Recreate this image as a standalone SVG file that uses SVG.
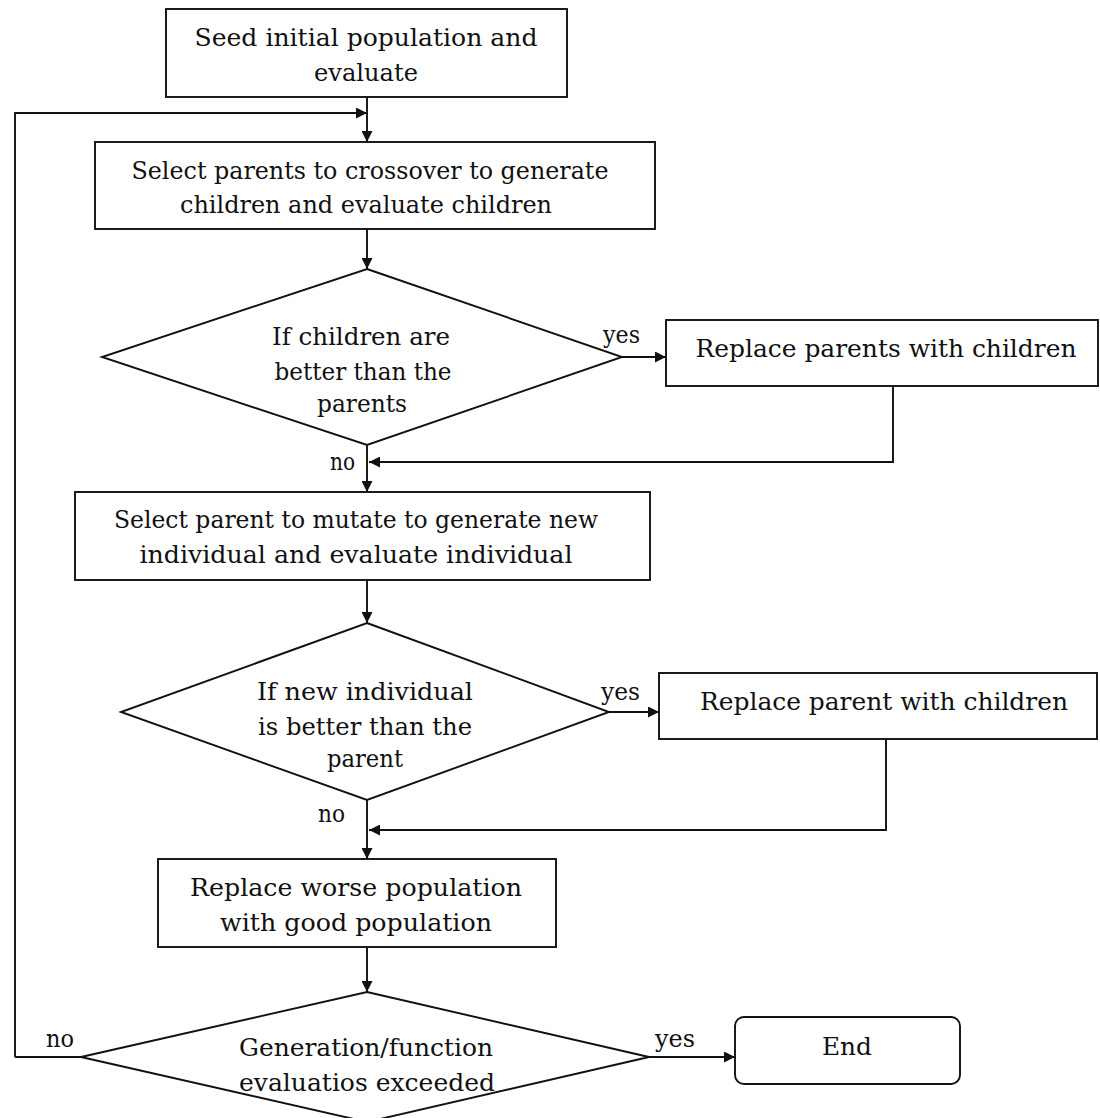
<svg xmlns="http://www.w3.org/2000/svg" width="1100" height="1118" viewBox="0 0 1100 1118">
  <style>
    .box { fill: #ffffff; stroke: #111; stroke-width: 1.9; }
    .wire { fill: none; stroke: #111; stroke-width: 1.9; }
    text { font-family: "DejaVu Serif", "Liberation Serif", serif; font-size: 25px; fill: #111; }
    .c { text-anchor: middle; }
  </style>
  <defs>
    <marker id="arrow" viewBox="0 0 10 10" refX="10" refY="5" markerWidth="13" markerHeight="11" markerUnits="userSpaceOnUse" orient="auto">
      <path d="M0,0 L10,5 L0,10 Z" fill="#111"/>
    </marker>
  </defs>
  <rect width="1100" height="1118" fill="#ffffff"/>

  <g id="connectors">
    <line class="wire" x1="367" y1="97" x2="367" y2="142" marker-end="url(#arrow)"/>
    <polyline class="wire" points="15,1057 15,113 367,113" marker-end="url(#arrow)"/>
    <line class="wire" x1="367" y1="229" x2="367" y2="269" marker-end="url(#arrow)"/>
    <line class="wire" x1="622" y1="357" x2="666" y2="357" marker-end="url(#arrow)"/>
    <polyline class="wire" points="893,386 893,462 369,462" marker-end="url(#arrow)"/>
    <line class="wire" x1="367" y1="445" x2="367" y2="492" marker-end="url(#arrow)"/>
    <line class="wire" x1="367" y1="580" x2="367" y2="623" marker-end="url(#arrow)"/>
    <line class="wire" x1="609" y1="712" x2="659" y2="712" marker-end="url(#arrow)"/>
    <polyline class="wire" points="886,739 886,830 369,830" marker-end="url(#arrow)"/>
    <line class="wire" x1="367" y1="800" x2="367" y2="859" marker-end="url(#arrow)"/>
    <line class="wire" x1="367" y1="947" x2="367" y2="992" marker-end="url(#arrow)"/>
    <line class="wire" x1="649" y1="1057" x2="735" y2="1057" marker-end="url(#arrow)"/>
    <line class="wire" x1="81" y1="1057" x2="15" y2="1057"/>
    <text x="603" y="343" textLength="37" lengthAdjust="spacingAndGlyphs">yes</text>
    <text x="330" y="470" textLength="25" lengthAdjust="spacingAndGlyphs">no</text>
    <text x="601" y="700" textLength="39" lengthAdjust="spacingAndGlyphs">yes</text>
    <text x="318" y="822" textLength="27" lengthAdjust="spacingAndGlyphs">no</text>
    <text x="46" y="1047" textLength="28" lengthAdjust="spacingAndGlyphs">no</text>
    <text x="655" y="1047" textLength="40" lengthAdjust="spacingAndGlyphs">yes</text>
  </g>

  <g id="seed">
    <rect class="box" x="166" y="9" width="401" height="88"/>
    <text class="c" x="366" y="46" textLength="343" lengthAdjust="spacingAndGlyphs">Seed initial population and</text>
    <text class="c" x="366" y="81" textLength="104" lengthAdjust="spacingAndGlyphs">evaluate</text>
  </g>

  <g id="crossover">
    <rect class="box" x="95" y="142" width="560" height="87"/>
    <text class="c" x="370" y="179" textLength="477" lengthAdjust="spacingAndGlyphs">Select parents to crossover to generate</text>
    <text class="c" x="366" y="213" textLength="372" lengthAdjust="spacingAndGlyphs">children and evaluate children</text>
  </g>

  <g id="check-children">
    <polygon class="box" points="367,269 622,357 367,445 102,357"/>
    <text class="c" x="361" y="345" textLength="178" lengthAdjust="spacingAndGlyphs">If children are</text>
    <text class="c" x="363" y="380" textLength="177" lengthAdjust="spacingAndGlyphs">better than the</text>
    <text class="c" x="362" y="412" textLength="90" lengthAdjust="spacingAndGlyphs">parents</text>
  </g>

  <g id="replace-parents">
    <rect class="box" x="666" y="320" width="432" height="66"/>
    <text class="c" x="886" y="357" textLength="381" lengthAdjust="spacingAndGlyphs">Replace parents with children</text>
  </g>

  <g id="mutate">
    <rect class="box" x="75" y="492" width="575" height="88"/>
    <text class="c" x="356" y="528" textLength="484" lengthAdjust="spacingAndGlyphs">Select parent to mutate to generate new</text>
    <text class="c" x="356" y="563" textLength="433" lengthAdjust="spacingAndGlyphs">individual and evaluate individual</text>
  </g>

  <g id="check-individual">
    <polygon class="box" points="367,623 609,712 367,800 121,712"/>
    <text class="c" x="365" y="700" textLength="216" lengthAdjust="spacingAndGlyphs">If new individual</text>
    <text class="c" x="365" y="735" textLength="214" lengthAdjust="spacingAndGlyphs">is better than the</text>
    <text class="c" x="365" y="767" textLength="76" lengthAdjust="spacingAndGlyphs">parent</text>
  </g>

  <g id="replace-parent">
    <rect class="box" x="659" y="673" width="438" height="66"/>
    <text class="c" x="884" y="710" textLength="368" lengthAdjust="spacingAndGlyphs">Replace parent with children</text>
  </g>

  <g id="replace-worse">
    <rect class="box" x="158" y="859" width="398" height="88"/>
    <text class="c" x="356" y="896" textLength="332" lengthAdjust="spacingAndGlyphs">Replace worse population</text>
    <text class="c" x="356" y="931" textLength="272" lengthAdjust="spacingAndGlyphs">with good population</text>
  </g>

  <g id="check-limit">
    <polygon class="box" points="367,992 649,1057 367,1122 81,1057"/>
    <text class="c" x="366" y="1056" textLength="254" lengthAdjust="spacingAndGlyphs">Generation/function</text>
    <text class="c" x="367" y="1091" textLength="256" lengthAdjust="spacingAndGlyphs">evaluatios exceeded</text>
  </g>

  <g id="end">
    <rect class="box" x="735" y="1017" width="225" height="67" rx="9" ry="9"/>
    <text class="c" x="847" y="1055" textLength="50" lengthAdjust="spacingAndGlyphs">End</text>
  </g>
</svg>
